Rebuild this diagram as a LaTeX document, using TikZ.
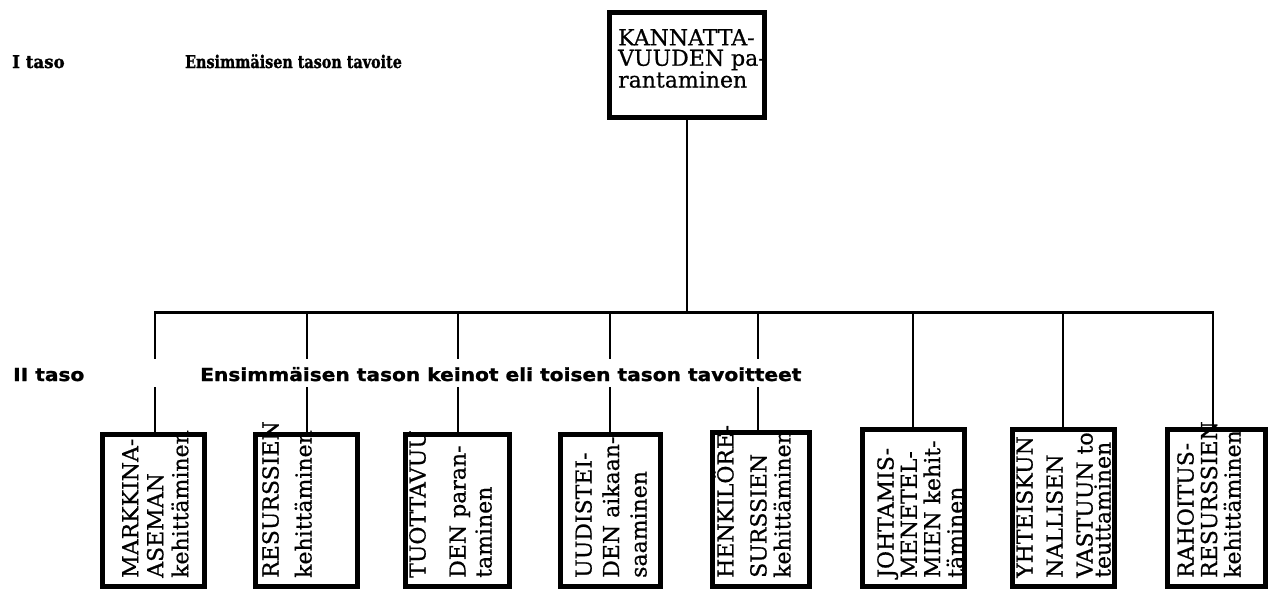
\documentclass[tikz,border=0pt]{standalone}
\usepackage{fontspec}
\newfontfamily\dvserif{DejaVu Serif}[FakeBold=0.6]
\newfontfamily\lvserif{DejaVu Serif Bold}[FakeBold=1.5]
\newfontfamily\lvsans{DejaVu Sans Bold}[FakeBold=1.2]
\newcommand\bxf[1]{\fontsize{22pt}{#1pt}\selectfont\dvserif}
\begin{document}
\begin{tikzpicture}[x=1pt,y=-1pt,
  lowbox/.style={draw,line width=5pt,inner sep=0pt},
  topbox/.style={draw,line width=5pt,inner sep=0pt},
  boxtxt/.style={rotate=90,anchor=north west,inner sep=0pt,align=left},
  toptxt/.style={anchor=north west,inner sep=0pt,align=left,font=\bxf{20.5}},
  lvone/.style={anchor=base west,inner sep=0pt,font=\fontsize{17.5pt}{20pt}\selectfont\lvserif},
  lvtwo/.style={anchor=base west,inner sep=0pt,xscale=1.12,font=\fontsize{18pt}{21pt}\selectfont\lvsans},
  drop/.style={line width=2pt},
  barline/.style={line width=3pt},
]
\useasboundingbox (0,0) rectangle (1270,590);
\clip (0,0) rectangle (1270,590);
\fill[white] (0,0) rectangle (1270,590);

% level labels
\node[lvone,xscale=0.95] (l1) at (12,68) {I taso};
\node[lvone,xscale=0.82] (g1) at (185,68) {Ensimmäisen tason tavoite};
\node[lvtwo] (l2) at (13,381) {II taso};
\node[lvtwo] (g2) at (200,381) {Ensimmäisen tason keinot eli toisen tason tavoitteet};

% top box
\node[topbox,minimum width=155pt,minimum height=105pt] (top) at (687,65) {};
\node[toptxt] (toptext) at (618,29) {KANNATTA-\\VUUDEN pa-\\rantaminen};

% lower boxes (outer edges given)
\node[lowbox,minimum width=102pt,minimum height=152pt] (b1) at (153.5,510) {};
\node[lowbox,minimum width=102pt,minimum height=152pt] (b2) at (306.5,510) {};
\node[lowbox,minimum width=104pt,minimum height=152pt] (b3) at (457.5,510) {};
\node[lowbox,minimum width=100pt,minimum height=152pt] (b4) at (610.5,510) {};
\node[lowbox,minimum width=97pt,minimum height=154pt] (b5) at (761,509) {};
\node[lowbox,minimum width=102pt,minimum height=157pt] (b6) at (913.5,507.5) {};
\node[lowbox,minimum width=102pt,minimum height=157pt] (b7) at (1063.5,507.5) {};
\node[lowbox,minimum width=98pt,minimum height=157pt] (b8) at (1216.5,507.5) {};

% texts in lower boxes
\node[boxtxt,font=\bxf{25}] (t1) at (122,578) {MARKKINA-\\ASEMAN\\kehittäminen};
\node[boxtxt,font=\bxf{33}] (t2) at (262,578) {RESURSSIEN\\kehittäminen};
\node[boxtxt,font=\bxf{26}] (t3) at (409,578) {TUOTTAVUU\\[14pt]DEN paran-\\taminen};
\node[boxtxt,font=\bxf{27.5}] (t4) at (575,578) {UUDISTEI-\\DEN aikaan-\\saaminen};
\node[boxtxt,font=\bxf{24}] (t5) at (713,578) {HENKILÖRE-\\[9pt]SURSSIEN\\kehittäminen};
\node[boxtxt,font=\bxf{23.3}] (t6) at (877,578) {JOHTAMIS-\\MENETEL-\\MIEN kehit-\\täminen};
\node[boxtxt,font=\bxf{30}] (t7) at (1016,578) {YHTEISKUN\\NALLISEN\\VASTUUN to\\[-12pt]teuttaminen};
\node[boxtxt,font=\bxf{23.5}] (t8) at (1177,578) {RAHOITUS-\\RESURSSIEN\\kehittäminen};

% bar and drops
\coordinate (d1) at (155,312);
\coordinate (d2) at (307,312);
\coordinate (d3) at (458,312);
\coordinate (d4) at (610,312);
\coordinate (d5) at (758,312);
\coordinate (d6) at (913,312);
\coordinate (d7) at (1063,312);
\coordinate (d8) at (1213,312);
\draw[barline] ([xshift=-1pt]d1) -- ([xshift=1pt]d8);
\draw[line width=2.5pt] (top.south) -- (top.south |- d1);

\foreach \i in {1,...,5}{
  \draw[drop] (d\i) -- (d\i |- 0,359);
  \draw[drop] (d\i |- 0,387) -- (d\i |- b\i.north);
}
\foreach \i in {6,7,8}{
  \draw[drop] (d\i) -- (d\i |- b\i.north);
}
\end{tikzpicture}
\end{document}
